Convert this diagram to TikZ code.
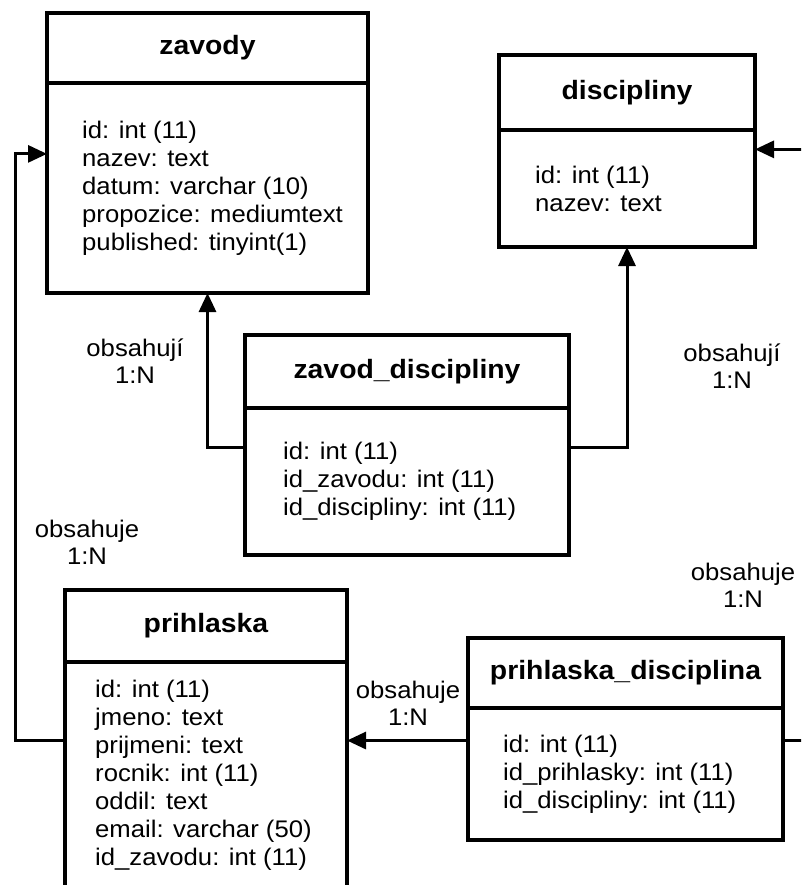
\documentclass[tikz,border=0pt]{standalone}
\usepackage{fontspec}
\setmainfont{Liberation Sans}[FakeStretch=1.07]
\usetikzlibrary{arrows.meta}

\begin{document}
\begin{tikzpicture}[x=1pt, y=-1pt,
    table/.style={draw, line width=3.5pt, inner sep=0pt, outer sep=0pt, anchor=north west},
    head/.style={table, font=\bfseries\fontsize{26.5}{30}\selectfont},
    fields/.style={anchor=west, align=left, inner sep=0pt, font=\fontsize{24}{28}\selectfont},
    rel/.style={line width=3pt, -{Triangle[length=19pt, width=17pt]}},
    card/.style={align=center, inner sep=0pt, font=\fontsize{24}{27}\selectfont}
    ]
    \useasboundingbox (0,0) rectangle (801,885);
    \clip (0,0) rectangle (801,885);
    \fill[white] (0,0) rectangle (801,885);

    % tables
    \node[head, minimum width=321pt, minimum height=70pt] (zavodyH) at (47,13) {zavody};
    \node[table, minimum width=321pt, minimum height=210pt] (zavodyB) at (zavodyH.south west) {};
    \node[fields] (zavodyF) at ([xshift=35pt]zavodyB.west)
      {id: int (11)\\nazev: text\\datum: varchar (10)\\propozice: mediumtext\\published: tinyint(1)};

    \node[head, minimum width=256pt, minimum height=75pt] (discH) at (499,55) {discipliny};
    \node[table, minimum width=256pt, minimum height=117pt] (discB) at (discH.south west) {};
    \node[fields] (discF) at ([xshift=36pt]discB.west) {id: int (11)\\nazev: text};

    \node[head, minimum width=324pt, minimum height=73pt] (zdH) at (245,335) {zavod\_discipliny};
    \node[table, minimum width=324pt, minimum height=147pt] (zdB) at (zdH.south west) {};
    \node[fields] (zdF) at ([xshift=38pt]zdB.west)
      {id: int (11)\\id\_zavodu: int (11)\\id\_discipliny: int (11)};

    \node[head, minimum width=282pt, minimum height=72pt] (prH) at (65,590) {prihlaska};
    \node[table, minimum width=282pt, minimum height=227pt] (prB) at (prH.south west) {};
    \node[fields] (prF) at ([xshift=30pt]prB.west)
      {id: int (11)\\jmeno: text\\prijmeni: text\\rocnik: int (11)\\oddil: text\\email: varchar (50)\\id\_zavodu: int (11)};

    \node[head, minimum width=315pt, minimum height=70pt] (pdH) at (468,638) {prihlaska\_disciplina};
    \node[table, minimum width=315pt, minimum height=132pt] (pdB) at (pdH.south west) {};
    \node[fields] (pdF) at ([xshift=35pt]pdB.west)
      {id: int (11)\\id\_prihlasky: int (11)\\id\_discipliny: int (11)};

    % relations
    \coordinate (westrail) at (15,0);
    \coordinate (eastrail) at (812,0);
    \draw[rel] (zdB.168) -| (zavodyB.south);
    \draw[rel] (zdB.12) -| (discB.south);
    \draw[rel] (prB.166) -- (prB.166 -| westrail) |- (zavodyB.168);
    \draw[rel] (pdB.168) -- (pdB.168 -| prB.east);
    \draw[rel] (pdB.12) -- (pdB.12 -| eastrail) |- (discB.17);

    % cardinalities
    \node[card] (zdZavody) at (135,361) {obsahují\\1:N};
    \node[card] (zdDisc) at (732,366) {obsahují\\1:N};
    \node[card] (prZavody) at (87,542) {obsahuje\\1:N};
    \node[card] (pdDisc) at (743,585) {obsahuje\\1:N};
    \node[card] (pdPr) at (408,703) {obsahuje\\1:N};
\end{tikzpicture}
\end{document}
